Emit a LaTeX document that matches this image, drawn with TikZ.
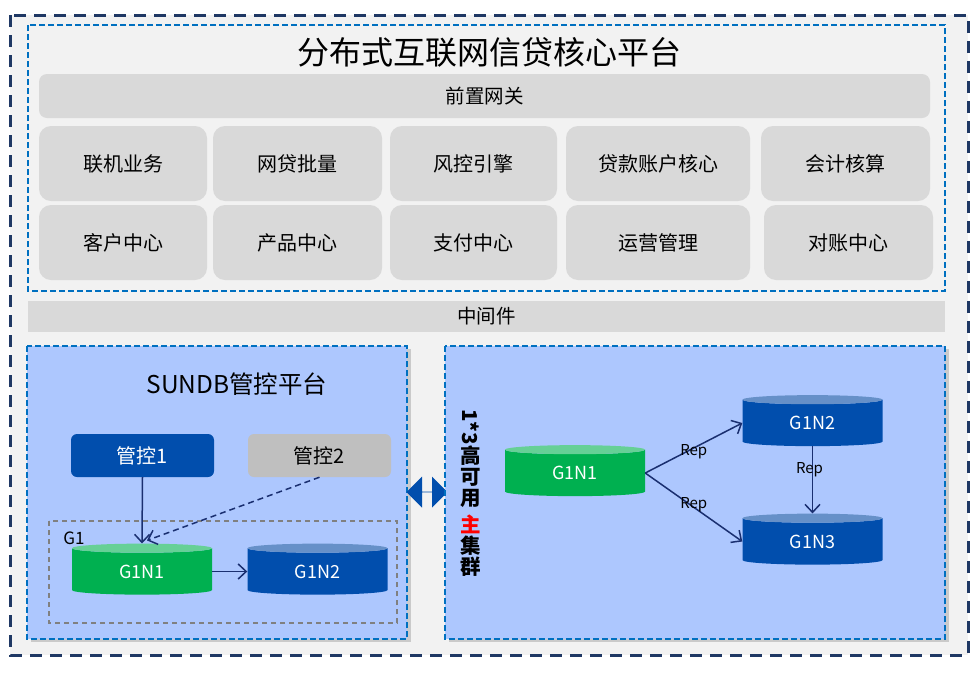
\documentclass[tikz,border=0pt]{standalone}
\usepackage{fontspec}
\setmainfont{Noto Sans CJK SC}
\usetikzlibrary{positioning,shapes.geometric,shapes.arrows,arrows.meta,shadows}

\definecolor{framenavy}{HTML}{1F3864}
\definecolor{zoneblue}{HTML}{0070C0}
\definecolor{panelblue}{HTML}{ADC7FE}
\definecolor{boxgray}{HTML}{D9D9D9}
\definecolor{bggray}{HTML}{F2F2F2}
\definecolor{nodeblue}{HTML}{014EAD}
\definecolor{nodebluetop}{HTML}{6690C8}
\definecolor{nodegreen}{HTML}{00B050}
\definecolor{nodegreentop}{HTML}{66D096}
\definecolor{arrownavy}{HTML}{1A2F70}

\begin{document}
\begin{tikzpicture}[x=1pt,y=-1pt,
  zone/.style={draw=zoneblue,line width=1.6pt,dash pattern=on 6pt off 3pt},
  panel/.style={zone,fill=panelblue,drop shadow={shadow xshift=4pt,shadow yshift=-3pt,opacity=.35}},
  module/.style={rectangle,rounded corners=12pt,fill=boxgray,minimum width=#1,minimum height=75pt,
    font=\fontsize{20}{20}\selectfont},
  module/.default=168pt,
  bar/.style={rectangle,fill=boxgray,font=\fontsize{19.5}{19.5}\selectfont},
  ctrl/.style={rectangle,rounded corners=6pt,minimum width=143pt,minimum height=43pt,
    font=\fontsize{20}{20}\selectfont},
  db/.style={cylinder,shape border rotate=90,shape aspect=0.2,cylinder uses custom fill,
    minimum width=140pt,minimum height=51pt,inner sep=0pt,text=white,font=\fontsize{18}{18}\selectfont},
  dbgreen/.style={db,cylinder body fill=nodegreen,cylinder end fill=nodegreentop},
  dbblue/.style={db,cylinder body fill=nodeblue,cylinder end fill=nodebluetop},
  flow/.style={draw=arrownavy,line width=1.5pt,-{Straight Barb[length=8pt,width=15pt]}},
  rep/.style={font=\fontsize{15}{15}\selectfont,inner sep=0pt}]
\useasboundingbox (0,0) rectangle (979,675);

\draw[fill=bggray,draw=framenavy,line width=3pt,dash pattern=on 12pt off 8pt] (10,15) rectangle (968,655);
\draw[zone] (28,25) rectangle (945,291);

\node[font=\fontsize{32}{32}\selectfont] (title) at (489,52) {分布式互联网信贷核心平台};
\node[bar,rounded corners=8pt,minimum width=891pt,minimum height=44pt] (gateway) at (484.5,96) {前置网关};

\node[module] (online) at (123,163.5) {联机业务};
\node[module=169pt] (batch) at (297.5,163.5) {网贷批量};
\node[module=167pt] (risk) at (473.5,163.5) {风控引擎};
\node[module=184pt] (loancore) at (658,163.5) {贷款账户核心};
\node[module=169pt] (account) at (845.5,163.5) {会计核算};
\node[module] (customer) at (123,242.5) {客户中心};
\node[module=169pt] (product) at (297.5,242.5) {产品中心};
\node[module=167pt] (payment) at (473.5,242.5) {支付中心};
\node[module=184pt] (operation) at (658,242.5) {运营管理};
\node[module=169pt] (reconcile) at (848.5,242.5) {对账中心};

\node[bar,minimum width=917pt,minimum height=31pt] (middleware) at (486.5,316.5) {中间件};

% SUNDB panel
\draw[panel] (27,346) rectangle (407,639);
\node[font=\fontsize{24.5}{24.5}\selectfont] (sundb) at (237,384) {SUNDB管控平台};
\node[ctrl,fill=nodeblue,text=white] (ctrl1) at (142.5,455.5) {管控1};
\node[ctrl,fill=black!25] (ctrl2) at (319.5,455.5) {管控2};
\draw[draw=black!50,line width=1.2pt,dash pattern=on 5pt off 4pt] (49,521) rectangle (397,623);
\node[font=\fontsize{17}{17}\selectfont] (g1) at (74,538) {G1};
\node[dbgreen] (g1n1l) at (142,571.5) {G1N1};
\node[dbblue] (g1n2l) at (317.5,571.5) {G1N2};
\draw[flow] (ctrl1.south) -- (g1n1l.north);
\draw[flow,dash pattern=on 6pt off 4pt] (ctrl2.south) -- ([xshift=5pt,yshift=3pt]g1n1l.north);
\draw[flow] (g1n1l.east) -- (g1n2l.west);

\node[double arrow,fill=nodeblue,minimum height=41pt,minimum width=31pt,
  double arrow head extend=9pt,inner sep=0pt] (link) at (427,492) {};

% cluster panel
\draw[panel] (445,346) rectangle (945,639);
\node[font=\bfseries\fontsize{20.5}{21}\selectfont,align=center,inner sep=0pt] (hatitle) at (471,493)
  {\rotatebox{-90}{1*3}\\高\\可\\用\\[6pt]\textcolor{red}{主}\\集\\群};
\node[dbgreen] (g1n1r) at (575,473) {G1N1};
\node[dbblue] (g1n2r) at (812.5,423) {G1N2};
\node[dbblue] (g1n3r) at (812.5,541.5) {G1N3};
\draw[flow] (g1n1r.east) -- (g1n2r.west) node[rep,midway,yshift=-4pt]{Rep};
\draw[flow] (g1n1r.east) -- (g1n3r.west) node[rep,midway,yshift=3pt]{Rep};
\draw[flow] (g1n2r.south) -- (g1n3r.north) node[rep,pos=.35,xshift=-3pt]{Rep};

\end{tikzpicture}
\end{document}
